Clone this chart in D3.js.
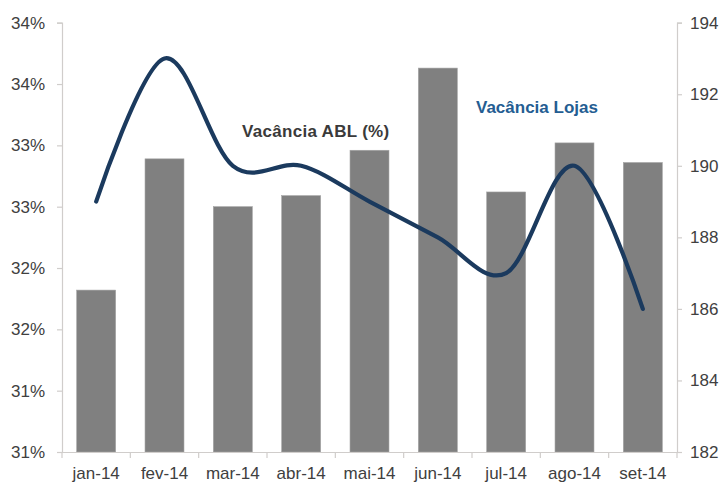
<!DOCTYPE html>
<html>
<head>
<meta charset="utf-8">
<script src="https://cdn.jsdelivr.net/npm/d3@7/dist/d3.min.js"></script>
<style>
  html, body { margin: 0; padding: 0; background: #ffffff; }
  svg { display: block; font-family: "Liberation Sans", Arial, sans-serif; }
</style>
</head>
<body>
<svg id="chart" width="723" height="482"></svg>
<script>
// ---- data ----
const categories = ["jan-14", "fev-14", "mar-14", "abr-14", "mai-14", "jun-14", "jul-14", "ago-14", "set-14"];
const vacanciaABL = [31.82, 32.89, 32.50, 32.59, 32.96, 33.63, 32.62, 33.02, 32.86]; // bars, left axis (%)
const vacanciaLojas = [189, 193, 190, 190, 189, 188, 187, 190, 186];                  // line, right axis
const leftTickValues = [30.5, 31.0, 31.5, 32.0, 32.5, 33.0, 33.5, 34.0];
const leftTickLabels = ["31%", "31%", "32%", "32%", "33%", "33%", "34%", "34%"];
const rightTickValues = [182, 184, 186, 188, 190, 192, 194];
const labelABL = "Vacância ABL (%)";
const labelLojas = "Vacância Lojas";

// ---- layout ----
const W = 723, H = 482;
const m = { left: 62, right: 46, top: 22.7, bottom: 30 };
const x0 = m.left, x1 = W - m.right, yTop = m.top, yBot = H - m.bottom;

const svg = d3.select("#chart");

const x = d3.scaleBand().domain(categories).range([x0, x1]).paddingInner(0.43).paddingOuter(0.215);
const yL = d3.scaleLinear().domain([30.5, 34]).range([yBot, yTop]);
const yR = d3.scaleLinear().domain([182, 194]).range([yBot, yTop]);

const axisColor = "#d0cdcb";
const textColor = "#404040";
const fontSize = "17px";

// bars
svg.append("g").selectAll("rect").data(vacanciaABL).join("rect")
  .attr("x", (d, i) => x(categories[i]))
  .attr("y", d => yL(d))
  .attr("width", x.bandwidth())
  .attr("height", d => yBot - yL(d))
  .attr("fill", "#808080")
  .attr("stroke", "#a3a3a3")
  .attr("stroke-width", 0.6);

// left axis
const gL = svg.append("g").attr("transform", `translate(${x0},0)`)
  .call(d3.axisLeft(yL).tickValues(leftTickValues)
    .tickFormat((d, i) => leftTickLabels[i]).tickSize(5).tickPadding(12));
// right axis
const gR = svg.append("g").attr("transform", `translate(${x1},0)`)
  .call(d3.axisRight(yR).tickValues(rightTickValues).tickFormat(d3.format("d")).tickSize(5).tickPadding(8));
// bottom axis (labels at centers, no ticks)
const gB = svg.append("g").attr("transform", `translate(0,${yBot})`)
  .call(d3.axisBottom(x).tickSize(0).tickPadding(15));

[gL, gR, gB].forEach(g => {
  g.select(".domain").attr("stroke", axisColor).attr("stroke-width", 1.2);
  g.selectAll(".tick line").attr("stroke", axisColor).attr("stroke-width", 1.2);
  g.selectAll(".tick text").attr("fill", textColor).style("font-size", fontSize)
    .style("font-family", '"Liberation Sans", Arial, sans-serif');
});
gB.select(".domain").attr("d", `M${x0 - 5},0.5H${x1 + 5}`);

// category boundary ticks
const step = x.step();
const boundaries = categories.map(c => x(c) - step * x.paddingInner() / 2).concat([x1]);
svg.append("g").selectAll("line").data(boundaries).join("line")
  .attr("x1", d => d).attr("x2", d => d)
  .attr("y1", yBot).attr("y2", yBot + 6)
  .attr("stroke", axisColor).attr("stroke-width", 1.2);

// line
const line = d3.line()
  .x((d, i) => x(categories[i]) + x.bandwidth() / 2)
  .y(d => yR(d))
  .curve(d3.curveCardinal.tension(0));
svg.append("path").datum(vacanciaLojas)
  .attr("d", line)
  .attr("fill", "none")
  .attr("stroke", "#1b3a5e")
  .attr("stroke-width", 4.2)
  .attr("stroke-linecap", "round")
  .attr("stroke-linejoin", "round");

// annotations
svg.append("text").attr("x", 242).attr("y", 136.5)
  .attr("fill", "#3a3a3a").style("font-weight", "bold").style("font-size", "17px")
  .style("letter-spacing", "0.3px")
  .text(labelABL);
svg.append("text").attr("x", 476).attr("y", 113)
  .attr("fill", "#245d92").style("font-weight", "bold").style("font-size", "17px")
  .text(labelLojas);
</script>
</body>
</html>
